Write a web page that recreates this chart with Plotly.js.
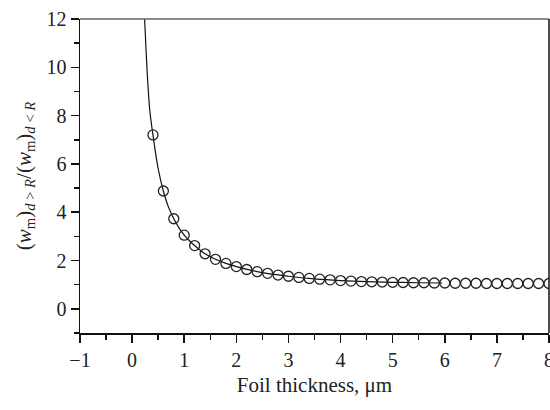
<!DOCTYPE html>
<html>
<head>
<meta charset="utf-8">
<script src="https://cdn.plot.ly/plotly-3.0.1.min.js"></script>
<style>html,body{margin:0;padding:0;background:#fff;}</style>
</head>
<body>
<div id="chart" style="width:550px;height:410px;"></div>
<script>
// Measured points (open circles)
const thickness = [0.4,0.6,0.8,1.0,1.2,1.4,1.6,1.8,2.0,2.2,2.4,2.6,2.8,3.0,3.2,3.4,3.6,3.8,4.0,4.2,4.4,4.6,4.8,5.0,5.2,5.4,5.6,5.8,6.0,6.2,6.4,6.6,6.8,7.0,7.2,7.4,7.6,7.8,8.0];
const ratio = [7.2,4.88,3.73,3.05,2.62,2.28,2.05,1.88,1.75,1.63,1.54,1.47,1.40,1.35,1.30,1.26,1.23,1.20,1.17,1.15,1.13,1.12,1.11,1.10,1.09,1.08,1.08,1.07,1.07,1.06,1.06,1.06,1.05,1.05,1.05,1.05,1.05,1.05,1.05];
// Fitted curve (solid line)
const curveX = [0.24,0.27,0.3,0.34,0.4,0.5,0.6,0.7,0.8,0.9,1.0,1.1,1.2,1.4,1.6,1.8,2.0,2.5,3.0,3.5,4.0,4.5,5.0,5.5,5.95];
const curveY = [12,10.6,9.4,8.2,7.2,5.8,4.88,4.2,3.73,3.35,3.05,2.82,2.62,2.28,2.05,1.88,1.75,1.5,1.35,1.24,1.17,1.125,1.10,1.08,1.07];

const tickFont = {family: 'Liberation Serif, serif', size: 20, color: '#222'};
const titleFont = {family: 'Liberation Serif, serif', size: 21, color: '#222'};

const traces = [
  {x: curveX, y: curveY, mode: 'lines', type: 'scatter',
   line: {color: '#111', width: 1.2, shape: 'spline'}, hoverinfo: 'skip'},
  {x: thickness, y: ratio, mode: 'markers', type: 'scatter',
   marker: {symbol: 'circle-open', size: 10, color: '#222', line: {width: 1.3, color: '#222'}}}
];

const layout = {
  width: 550, height: 410,
  margin: {l: 80, r: 1, t: 19, b: 77},
  paper_bgcolor: '#fff', plot_bgcolor: '#fff',
  showlegend: false,
  font: titleFont,
  xaxis: {
    range: [-1, 8], tick0: -1, dtick: 1, showgrid: false, zeroline: false,
    showline: true, linecolor: '#111', linewidth: 1.5,
    ticks: 'outside', ticklen: 8, tickwidth: 1.5, tickcolor: '#111',
    minor: {dtick: 0.5, ticks: 'outside', ticklen: 5, tickwidth: 1.5, tickcolor: '#111', showgrid: false},
    tickfont: tickFont, tickformat: 'd', ticklabeloverflow: 'allow', automargin: false,
    title: {text: 'Foil thickness, μm', font: titleFont, standoff: 8}
  },
  yaxis: {
    range: [-1, 12], tick0: 0, dtick: 2, showgrid: false, zeroline: false,
    showline: true, linecolor: '#111', linewidth: 1.5,
    ticks: 'outside', ticklen: 8, tickwidth: 1.5, tickcolor: '#111',
    minor: {dtick: 1, ticks: 'outside', ticklen: 5, tickwidth: 1.5, tickcolor: '#111', showgrid: false},
    tickfont: tickFont, automargin: false,
    title: {text: '(<i>w</i><sub>m</sub>)<sub><i>d</i> &gt; <i>R</i></sub>/(<i>w</i><sub>m</sub>)<sub><i>d</i> &lt; <i>R</i></sub>', font: titleFont, standoff: 9}
  },
  shapes: [
    {type: 'line', xref: 'paper', yref: 'paper', x0: 0, x1: 1, y0: 1, y1: 1, line: {color: '#666', width: 1.5}},
    {type: 'line', xref: 'paper', yref: 'paper', x0: 1, x1: 1, y0: 0, y1: 1, line: {color: '#111', width: 1.5}}
  ]
};

Plotly.newPlot('chart', traces, layout, {displayModeBar: false, staticPlot: true});
</script>
</body>
</html>
